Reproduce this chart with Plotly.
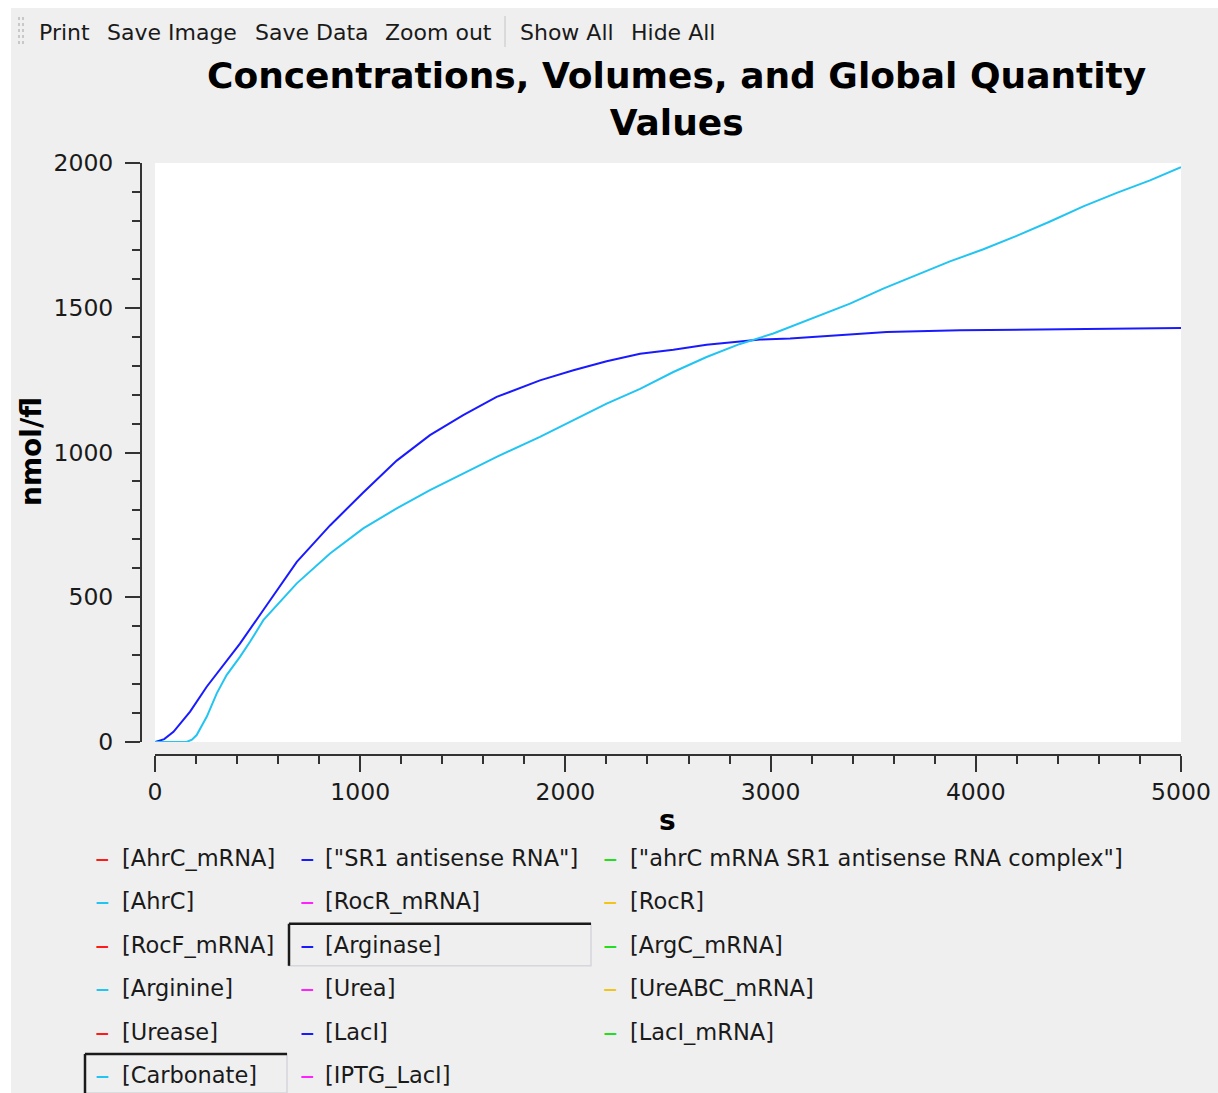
import plotly.graph_objects as go

# ---------------- data ----------------
series_names = ['[AhrC_mRNA]', '["SR1 antisense RNA"]', '["ahrC mRNA SR1 antisense RNA complex"]',
                '[AhrC]', '[RocR_mRNA]', '[RocR]',
                '[RocF_mRNA]', '[Arginase]', '[ArgC_mRNA]',
                '[Arginine]', '[Urea]', '[UreABC_mRNA]',
                '[Urease]', '[LacI]', '[LacI_mRNA]',
                '[Carbonate]', '[IPTG_LacI]']
color_cycle = ['#ff1a1a', '#1a1aff', '#22dd22', '#22c4f2', '#ff22ff', '#f0c418']
shown_series = ['[Arginase]', '[Carbonate]']

arginase_t = [0, 45, 90, 171, 252, 333, 414, 528, 691, 853, 1015, 1178, 1340, 1502, 1665,
              1876, 2039, 2201, 2364, 2526, 2688, 2851, 2948, 3095, 3257, 3436, 3566, 3923,
              4400, 4825, 5000]
arginase_v = [0, 10, 35, 105, 191, 265, 340, 456, 622, 748, 862, 972, 1060, 1129, 1192,
              1249, 1284, 1315, 1341, 1355, 1372, 1383, 1390, 1394, 1402, 1410, 1416, 1422,
              1425, 1428, 1430]

carbonate_t = [0, 154, 180, 203, 252, 301, 349, 414, 463, 528, 691, 853, 1015, 1178, 1340,
               1502, 1665, 1876, 2039, 2201, 2364, 2526, 2688, 2851, 3013, 3176, 3387, 3549,
               3712, 3874, 4037, 4199, 4362, 4524, 4687, 4849, 5000]
carbonate_v = [0, 0, 8, 24, 87, 168, 231, 294, 346, 421, 548, 651, 738, 807, 870,
               927, 985, 1054, 1112, 1169, 1220, 1278, 1330, 1375, 1411, 1456, 1514, 1566,
               1614, 1660, 1702, 1748, 1798, 1850, 1897, 1940, 1986]

series_data = {'[Arginase]': (arginase_t, arginase_v),
               '[Carbonate]': (carbonate_t, carbonate_v)}

x_range = [0, 5000]
y_range = [0, 2000]
toolbar_items = ['Print', 'Save Image', 'Save Data', 'Zoom out', 'Show All', 'Hide All']
title_text = 'Concentrations, Volumes, and Global Quantity<br>Values'
x_title = 's'
y_title = 'nmol/fl'

# ---------------- layout helpers (page pixel -> paper fraction) ----------------
W, H = 1218, 1093
FONT = 'DejaVu Sans'
TXT = '#1a1a1a'
AX = '#333333'


def px(x):
    return min(max(x / W, 0.0), 1.0)


def py(y):
    return min(max(1 - y / H, 0.0), 1.0)


fig = go.Figure()

for i, name in enumerate(series_names):
    if name in series_data:
        t, v = series_data[name]
        fig.add_trace(go.Scatter(x=t, y=v, mode='lines', name=name,
                                 line=dict(color=color_cycle[i % len(color_cycle)], width=2),
                                 xaxis='x2', yaxis='y2', showlegend=False, hoverinfo='skip'))

annotations = []
shapes = []

# toolbar
toolbar_x = [38, 106, 254, 384, 519, 630]
for label, x in zip(toolbar_items, toolbar_x):
    annotations.append(dict(text=label, x=px(x), y=py(32), xref='paper', yref='paper',
                            xanchor='left', yanchor='middle', showarrow=False,
                            font=dict(family=FONT, size=22, color=TXT), borderpad=0))
shapes.append(dict(type='line', xref='paper', yref='paper', x0=px(505), x1=px(505),
                   y0=py(16), y1=py(47), line=dict(color='#c4c4c4', width=1)))
for gx in (19, 23):
    shapes.append(dict(type='line', xref='paper', yref='paper', x0=px(gx), x1=px(gx),
                       y0=py(17), y1=py(46), line=dict(color='#c8c8c8', width=2, dash='dot')))
# white outer border strips (left and top)
shapes.append(dict(type='rect', xref='paper', yref='paper', x0=0, x1=px(11), y0=0, y1=1,
                   fillcolor='white', line=dict(width=0), layer='below'))
shapes.append(dict(type='rect', xref='paper', yref='paper', x0=0, x1=1, y0=py(8), y1=1,
                   fillcolor='white', line=dict(width=0), layer='below'))

# title and axis titles
annotations.append(dict(text=title_text, x=px(676), y=py(98.5), xref='paper', yref='paper',
                        xanchor='center', yanchor='middle', showarrow=False, align='center',
                        font=dict(family=FONT, size=36, color='#000000', weight='bold')))
annotations.append(dict(text=x_title, x=px(667), y=py(820), xref='paper', yref='paper',
                        xanchor='center', yanchor='middle', showarrow=False,
                        font=dict(family=FONT, size=28, color='#000000', weight='bold')))
annotations.append(dict(text=y_title, x=px(32), y=py(452), xref='paper', yref='paper',
                        xanchor='center', yanchor='middle', showarrow=False, textangle=-90,
                        font=dict(family=FONT, size=28, color='#000000', weight='bold')))

# legend (3 columns, row-major)
col_dash_x = [95, 300, 603]
col_text_x = [122, 325, 630]
col_box = [(85, 287), (289, 591), (593, 1140)]
row0_y, row_dy = 858, 43.4
for i, name in enumerate(series_names):
    r, c = divmod(i, 3)
    yc = row0_y + r * row_dy
    col = color_cycle[i % len(color_cycle)]
    annotations.append(dict(text='–', x=px(col_dash_x[c] - 1), y=py(yc), xref='paper', yref='paper',
                            xanchor='left', yanchor='middle', showarrow=False, borderpad=0,
                            font=dict(family=FONT, size=29, color=col)))
    annotations.append(dict(text=name, x=px(col_text_x[c] - 1), y=py(yc), xref='paper', yref='paper',
                            xanchor='left', yanchor='middle', showarrow=False, borderpad=0,
                            font=dict(family=FONT, size=22.5, color=TXT)))
    if name in shown_series:
        bx0, bx1 = col_box[c]
        by0, by1 = yc - 21, yc + 21
        shapes.append(dict(type='rect', xref='paper', yref='paper', x0=px(bx0), x1=px(bx1),
                           y0=py(by1), y1=py(by0), line=dict(color='#d6d6dc', width=1.5)))
        shapes.append(dict(type='line', xref='paper', yref='paper', x0=px(bx0), x1=px(bx1),
                           y0=py(by0), y1=py(by0), line=dict(color='#1a1a1a', width=2.5)))
        shapes.append(dict(type='line', xref='paper', yref='paper', x0=px(bx0), x1=px(bx0),
                           y0=py(by0), y1=py(by1), line=dict(color='#1a1a1a', width=2.5)))

fig.update_layout(
    width=W, height=H, autosize=False,
    margin=dict(l=0, r=0, t=0, b=0, pad=0, autoexpand=False),
    paper_bgcolor='#efefef', plot_bgcolor='white',
    showlegend=False,
    xaxis=dict(domain=[px(147), px(1215)], range=[0, 1], visible=False, fixedrange=True,
               anchor='y', automargin=False),
    yaxis=dict(domain=[py(748), py(153)], range=[0, 1], visible=False, fixedrange=True,
               anchor='x', automargin=False),
    xaxis2=dict(domain=[px(155), px(1181)], range=x_range, anchor='free', position=py(755),
                automargin=False,
                showline=True, linecolor=AX, linewidth=2, showgrid=False, zeroline=False,
                ticks='outside', ticklen=16, tickwidth=2, tickcolor=AX, dtick=1000, tick0=0,
                ticklabelstandoff=0,
                minor=dict(ticks='outside', ticklen=8, tickwidth=2, tickcolor=AX, dtick=200, showgrid=False),
                tickfont=dict(family=FONT, size=23.5, color=TXT), fixedrange=True),
    yaxis2=dict(domain=[py(742), py(163)], range=y_range, anchor='free', position=px(141),
                automargin=False,
                showline=True, linecolor=AX, linewidth=2, showgrid=False, zeroline=False,
                ticks='outside', ticklen=15, tickwidth=2, tickcolor=AX, dtick=500, tick0=0,
                ticklabelstandoff=7,
                minor=dict(ticks='outside', ticklen=8, tickwidth=2, tickcolor=AX, dtick=100, showgrid=False),
                tickfont=dict(family=FONT, size=23.5, color=TXT), fixedrange=True),
    annotations=annotations,
    shapes=shapes,
)

pin_script = (
    "var gd=document.getElementById('{plot_id}');"
    "gd.style.position='fixed';gd.style.left='0px';gd.style.top='0px';gd.style.margin='0';"
    "document.body.style.margin='0';document.body.style.padding='0';"
    "document.documentElement.style.overflow='hidden';document.body.style.overflow='hidden';"
)

fig.write_html("out.html", config={'displayModeBar': False, 'staticPlot': True},
               post_script=pin_script)
